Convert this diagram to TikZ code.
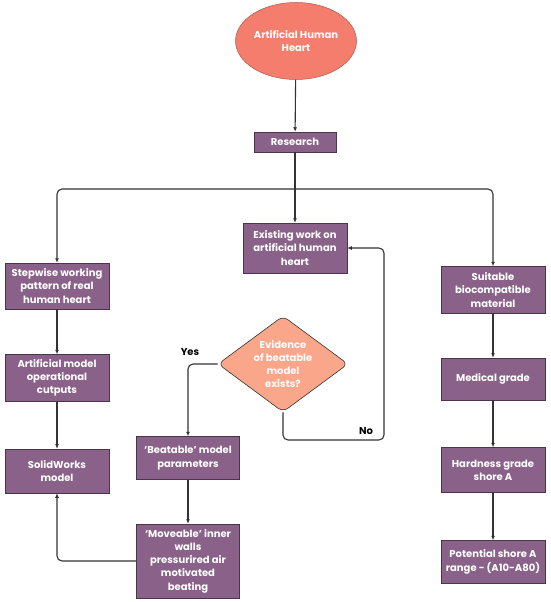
\documentclass[tikz,border=0pt]{standalone}
\usepackage{fontspec}
\setmainfont{Poppins}
\usetikzlibrary{shapes.geometric,arrows.meta}
\definecolor{boxc}{HTML}{8A6188}
\definecolor{ellc}{HTML}{F47D6E}
\definecolor{diac}{HTML}{F9A68A}
\definecolor{linec}{HTML}{333333}
\begin{document}
\begin{tikzpicture}[x=1pt,y=-1pt,
  txt/.style={font=\fontsize{10}{13.3}\selectfont\bfseries},
  box/.style={rectangle, fill=boxc, draw=boxc!55!black, line width=0.5pt, text=white, txt, align=center, inner sep=0pt},
  conn/.style={draw=linec, line width=1.1pt, -{Latex[length=4.5pt,width=4pt]}, rounded corners=5pt},
  lbl/.style={txt, text=black}]
\useasboundingbox (0,0) rectangle (550,602);
\node[ellipse, fill=ellc, draw=ellc!70!black, line width=0.5pt, minimum width=121, minimum height=77, inner sep=0pt, text=white, align=center, txt] (heart) at (296,41) {Artificial Human\\Heart};
\node[box, minimum width=82, minimum height=20] (research) at (295,142) {Research};
\node[box, minimum width=104, minimum height=50] (exist) at (295,248) {Existing work on\\artificial human\\heart};
\node[box, minimum width=104, minimum height=46] (step) at (57,286) {Stepwise working\\pattern of real\\human heart};
\node[box, minimum width=104, minimum height=47] (art) at (57,378) {Artificial model\\operational\\cutputs};
\node[box, minimum width=104, minimum height=44] (solid) at (57,471) {SolidWorks\\model};
\node[box, minimum width=104, minimum height=47] (suit) at (493,290) {Suitable\\biocompatible\\material};
\node[box, minimum width=104, minimum height=42] (med) at (493,379) {Medical grade};
\node[box, minimum width=104, minimum height=45] (hard) at (493,470) {Hardness grade\\shore A};
\node[box, minimum width=104, minimum height=43] (pot) at (493,562) {Potential shore A\\range - (A10-A80)};
\node[box, minimum width=103, minimum height=43] (beat) at (188,458) {`Beatable' model\\parameters};
\node[box, minimum width=103, minimum height=74] (move) at (188,561) {`Moveable' inner\\walls\\pressurired air\\motivated\\beating};
\node[diamond, fill=diac, draw=linec, line width=0.6pt, rounded corners=6pt, aspect=1.35, minimum width=130, minimum height=96, inner sep=0pt, text=white, align=center, txt] (dia) at (283,364) {Evidence\\of beatable\\model\\exists?};
\coordinate (bar) at (295,189);
\coordinate (nocorner) at (384,440);
\draw[conn] (heart) -- (research);
\draw[conn] (research) -- (exist);
\draw[conn] (bar) -| (step.north);
\draw[conn] (bar) -| (suit.north);
\draw[conn] (step) -- (art);
\draw[conn] (art) -- (solid);
\draw[conn] (suit) -- (med);
\draw[conn] (med) -- (hard);
\draw[conn] (hard) -- (pot);
\draw[conn] (beat) -- (move);
\draw[conn] (dia.west) -| (beat.north);
\draw[conn] (dia.south) |- (nocorner) |- (exist.east);
\draw[conn] (move.west) -| (solid.south);
\node[lbl] (yes) at (190,352) {Yes};
\node[lbl] (no) at (366,431) {No};
\end{tikzpicture}
\end{document}
